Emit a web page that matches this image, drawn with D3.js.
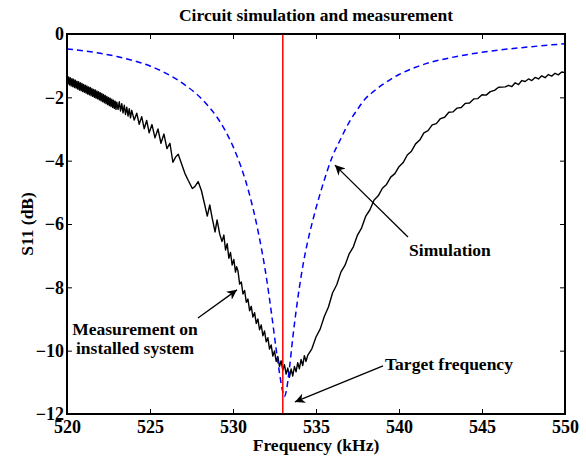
<!doctype html>
<html lang="en">
  <head>
    <meta charset="utf-8">
    <title>Circuit simulation and measurement</title>
    <style>
      body { margin: 0; background: #fff; }
      svg text { font-family: "Liberation Serif", "Times New Roman", serif; font-weight: bold; fill: #000; }
    </style>
  </head>
  <body>
    <div id="chart"></div>

    <script src="https://d3js.org/d3.v7.min.js"></script>
    <script>
      // Data
      var xTicks = [520, 525, 530, 535, 540, 545, 550];
      var yTicks = [-12, -10, -8, -6, -4, -2, 0];
      var targetFreq = 533.0;

      var simFreq = [520, 521, 522, 523, 524, 525, 526, 527, 528, 528.5, 529, 529.5, 530, 530.5, 531, 531.5, 532, 532.3, 532.6, 532.8, 533.0, 533.1,
                     533.2, 533.4, 533.6, 533.8, 534.0, 534.25, 534.5, 534.8, 535.0, 535.4, 536.0, 536.5, 537.0, 537.5, 538.0, 538.5, 539.0, 539.5,
                     540, 541, 542, 543, 544, 545, 546, 547, 548, 549, 550];
      var simDb = [-0.47, -0.53, -0.61, -0.71, -0.84, -1.01, -1.25, -1.57, -1.99, -2.27, -2.60, -3.02, -3.55, -4.22, -5.08, -6.20, -7.65, -8.75, -9.95, -10.70, -11.30, -11.45,
                   -11.30, -10.55, -9.60, -8.75, -8.00, -7.20, -6.55, -5.90, -5.50, -4.78, -3.85, -3.30, -2.78, -2.38, -2.03, -1.80, -1.60, -1.43,
                   -1.28, -1.05, -0.88, -0.76, -0.66, -0.58, -0.51, -0.45, -0.40, -0.35, -0.31];

      var measFreq = [
        520.00, 520.05, 520.10, 520.15, 520.20, 520.25, 520.30, 520.35, 520.40, 520.45,
        520.50, 520.55, 520.60, 520.65, 520.70, 520.75, 520.80, 520.85, 520.90, 520.95,
        521.00, 521.05, 521.10, 521.15, 521.20, 521.25, 521.30, 521.35, 521.40, 521.45,
        521.50, 521.55, 521.60, 521.65, 521.70, 521.75, 521.80, 521.85, 521.90, 521.95,
        522.00, 522.05, 522.10, 522.15, 522.20, 522.25, 522.30, 522.35, 522.40, 522.45,
        522.50, 522.55, 522.60, 522.65, 522.70, 522.75, 522.80, 522.85, 522.90, 522.95, 523.00,
        523.075, 523.15, 523.225, 523.3, 523.375, 523.45, 523.525, 523.6, 523.675, 523.75, 523.825, 523.9,
        524.05, 524.2, 524.35, 524.5, 524.65, 524.8, 524.95,
        525.12, 525.3, 525.48, 525.66, 525.84,
        526.02, 526.2, 526.38, 526.55, 526.7, 526.9, 527.1, 527.3, 527.55, 527.7, 527.9, 528.1, 528.3, 528.45,
        528.6, 528.75, 528.92, 529.04, 529.2, 529.34, 529.45, 529.55, 529.65, 529.75, 529.85, 529.95, 530.05, 530.15, 530.22,
        530.3, 530.4, 530.5, 530.6, 530.7, 530.8, 530.9, 531.0, 531.1, 531.2, 531.3, 531.4, 531.5, 531.6, 531.7, 531.8, 531.9,
        532.0, 532.1, 532.2, 532.3, 532.4, 532.5, 532.6, 532.7, 532.8, 532.9, 533.0, 533.1, 533.2, 533.3, 533.4, 533.5,
        533.6, 533.7, 533.8, 533.9, 534.0, 534.1, 534.2, 534.3, 534.4,
        534.5, 534.75, 535.0, 535.25, 535.5, 535.75, 536.0, 536.25, 536.5, 536.75, 537.0, 537.25, 537.5, 537.75,
        538.0, 538.25, 538.5, 538.75, 539.0, 539.25, 539.5, 539.75, 540.0, 540.25, 540.5, 540.75, 541.0, 541.25,
        541.5, 541.75, 542.0, 542.25, 542.5, 542.75, 543.0, 543.25, 543.5, 543.75, 544.0, 544.25, 544.5, 544.75,
        545.0, 545.25, 545.5, 545.75, 546.0, 546.4, 546.6, 546.8, 547.0, 547.2, 547.4, 547.6, 547.8, 548.0,
        548.2, 548.4, 548.6, 548.8, 549.0, 549.2, 549.4, 549.6, 549.8, 550.0];
      var measDb = [
        -1.33, -1.58, -1.36, -1.61, -1.38, -1.64, -1.41, -1.66, -1.43, -1.69,
        -1.46, -1.71, -1.49, -1.74, -1.51, -1.77, -1.54, -1.79, -1.56, -1.82,
        -1.59, -1.84, -1.62, -1.87, -1.64, -1.90, -1.67, -1.92, -1.69, -1.95,
        -1.72, -1.97, -1.75, -2.00, -1.77, -2.03, -1.80, -2.05, -1.82, -2.08,
        -1.85, -2.11, -1.88, -2.14, -1.91, -2.17, -1.94, -2.20, -1.97, -2.23,
        -2.00, -2.26, -2.03, -2.29, -2.06, -2.32, -2.09, -2.35, -2.12, -2.38, -2.15,
        -2.38, -2.14, -2.43, -2.20, -2.49, -2.25, -2.54, -2.31, -2.59, -2.36, -2.65, -2.41,
        -2.72, -2.50, -2.85, -2.61, -2.99, -2.73, -3.12,
        -2.86, -3.28, -3.00, -3.45, -3.16,
        -3.62, -3.45, -4.05, -3.88, -3.80, -4.10, -4.40, -4.62, -4.88, -4.82, -4.66, -4.95, -5.40, -5.75,
        -5.40, -5.82, -6.25, -5.87, -6.32, -6.55, -6.35, -6.82, -6.62, -7.08, -6.90, -7.30, -7.12, -7.52, -7.35,
        -7.48, -7.90, -7.83, -8.21, -8.10, -8.47, -8.37, -8.74, -8.60, -8.94, -8.80, -9.14, -9.00, -9.34, -9.19, -9.53, -9.38,
        -9.72, -9.59, -9.95, -9.82, -10.17, -10.01, -10.34, -10.18, -10.50, -10.32, -10.62, -10.44, -10.74, -10.55, -10.84, -10.58,
        -10.80, -10.50, -10.67, -10.38, -10.57, -10.28, -10.47, -10.16, -10.34,
        -10.15, -9.94, -9.57, -9.32, -8.92, -8.62, -8.17, -7.92, -7.52, -7.30, -6.94, -6.72, -6.35, -6.12,
        -5.75, -5.55, -5.24, -5.11, -4.87, -4.75, -4.52, -4.41, -4.19, -4.06, -3.82, -3.70, -3.47, -3.35,
        -3.12, -3.05, -2.87, -2.83, -2.67, -2.63, -2.47, -2.46, -2.34, -2.32, -2.19, -2.18, -2.05, -2.04,
        -1.92, -1.93, -1.82, -1.78, -1.68, -1.67, -1.62, -1.66, -1.54, -1.60, -1.47, -1.50, -1.42, -1.47,
        -1.37, -1.42, -1.32, -1.38, -1.28, -1.33, -1.24, -1.29, -1.20, -1.22];

      // Annotations in data units: text anchor and arrow (tail -> tip)
      var notes = [
        { lines: ["Simulation"], anchor: "middle", tx: 543.07, ty: -7.0, from: [540.54, -6.41], to: [536.14, -4.14] },
        { lines: ["Measurement on", "installed system"], anchor: "middle", tx: 524.1, ty: -9.5, from: [527.89, -8.97], to: [530.24, -8.08] },
        { lines: ["Target frequency"], anchor: "start", tx: 539.16, ty: -10.6, from: [539.04, -10.48], to: [533.73, -11.62] }
      ];

      var margin = {top: 34, right: 21, bottom: 44, left: 67},
          width = 586 - margin.left - margin.right,
          height = 458 - margin.top - margin.bottom;

      var svg = d3.select("#chart")
        .append("svg")
        .attr("width", 586)
        .attr("height", 458);

      var defs = svg.append("defs");
      defs.append("marker")
        .attr("id", "head")
        .attr("viewBox", "0 0 10 10")
        .attr("refX", 10)
        .attr("refY", 5)
        .attr("markerWidth", 10)
        .attr("markerHeight", 10)
        .attr("markerUnits", "userSpaceOnUse")
        .attr("orient", "auto")
        .append("path")
        .attr("d", "M0,0 L10,5 L0,10 L3,5 Z")
        .attr("fill", "#000");

      var g = svg.append("g")
        .attr("transform", "translate(" + margin.left + "," + margin.top + ")");

      var x = d3.scaleLinear().domain([520, 550]).range([0, width]);
      var y = d3.scaleLinear().domain([-12, 0]).range([height, 0]);

      // Title
      svg.append("text")
        .attr("x", margin.left + width / 2)
        .attr("y", 21)
        .attr("text-anchor", "middle")
        .attr("font-size", "17.5px")
        .text("Circuit simulation and measurement");

      // Curves
      var line = d3.line()
        .x(function(d) { return x(d[0]); })
        .y(function(d) { return y(d[1]); });

      var meas = measFreq.map(function(f, i) { return [f, measDb[i]]; });
      var sim = simFreq.map(function(f, i) { return [f, simDb[i]]; });

      g.append("path")
        .datum(meas)
        .attr("d", line)
        .attr("fill", "none")
        .attr("stroke", "#000")
        .attr("stroke-width", 1.4)
        .attr("stroke-linejoin", "round");

      g.append("path")
        .datum(sim)
        .attr("d", line.curve(d3.curveMonotoneX))
        .attr("fill", "none")
        .attr("stroke", "#0000ff")
        .attr("stroke-width", 1.5)
        .attr("stroke-dasharray", "6,4");

      g.append("line")
        .attr("x1", x(targetFreq)).attr("x2", x(targetFreq))
        .attr("y1", 0).attr("y2", height)
        .attr("stroke", "#ff0000")
        .attr("stroke-width", 1.5);

      // Axes, ticks inside on all four sides
      var xb = g.append("g")
        .attr("transform", "translate(0," + height + ")")
        .call(d3.axisBottom(x).tickValues(xTicks).tickSizeInner(-5).tickSizeOuter(0).tickPadding(6));
      var yl = g.append("g")
        .call(d3.axisLeft(y).tickValues(yTicks).tickSizeInner(-5).tickSizeOuter(0).tickPadding(3));
      g.append("g")
        .call(d3.axisTop(x).tickValues(xTicks).tickSizeInner(-5).tickSizeOuter(0).tickFormat(""));
      g.append("g")
        .attr("transform", "translate(" + width + ",0)")
        .call(d3.axisRight(y).tickValues(yTicks).tickSizeInner(-5).tickSizeOuter(0).tickFormat(""));

      g.selectAll(".domain").remove();
      g.selectAll(".tick line").attr("stroke", "#000").attr("stroke-width", 1);
      xb.selectAll("text").attr("font-size", "18px").attr("font-family", null);
      yl.selectAll("text").attr("font-size", "18px").attr("font-family", null);

      g.append("rect")
        .attr("width", width)
        .attr("height", height)
        .attr("fill", "none")
        .attr("stroke", "#000")
        .attr("stroke-width", 2);

      // Axis labels
      svg.append("text")
        .attr("x", margin.left + width / 2)
        .attr("y", 451)
        .attr("text-anchor", "middle")
        .attr("font-size", "17.5px")
        .text("Frequency (kHz)");

      svg.append("text")
        .attr("transform", "translate(33," + (margin.top + height / 2) + ") rotate(-90)")
        .attr("text-anchor", "middle")
        .attr("font-size", "17.5px")
        .text("S11 (dB)");

      // Annotations
      notes.forEach(function(n) {
        g.append("line")
          .attr("x1", x(n.from[0])).attr("y1", y(n.from[1]))
          .attr("x2", x(n.to[0])).attr("y2", y(n.to[1]))
          .attr("stroke", "#000")
          .attr("stroke-width", 1.3)
          .attr("marker-end", "url(#head)");
        var t = g.append("text")
          .attr("text-anchor", n.anchor)
          .attr("font-size", "17.5px");
        n.lines.forEach(function(s, i) {
          t.append("tspan")
            .attr("x", x(n.tx))
            .attr("y", y(n.ty) + i * 19)
            .text(s);
        });
      });
    </script>
  </body>
</html>
